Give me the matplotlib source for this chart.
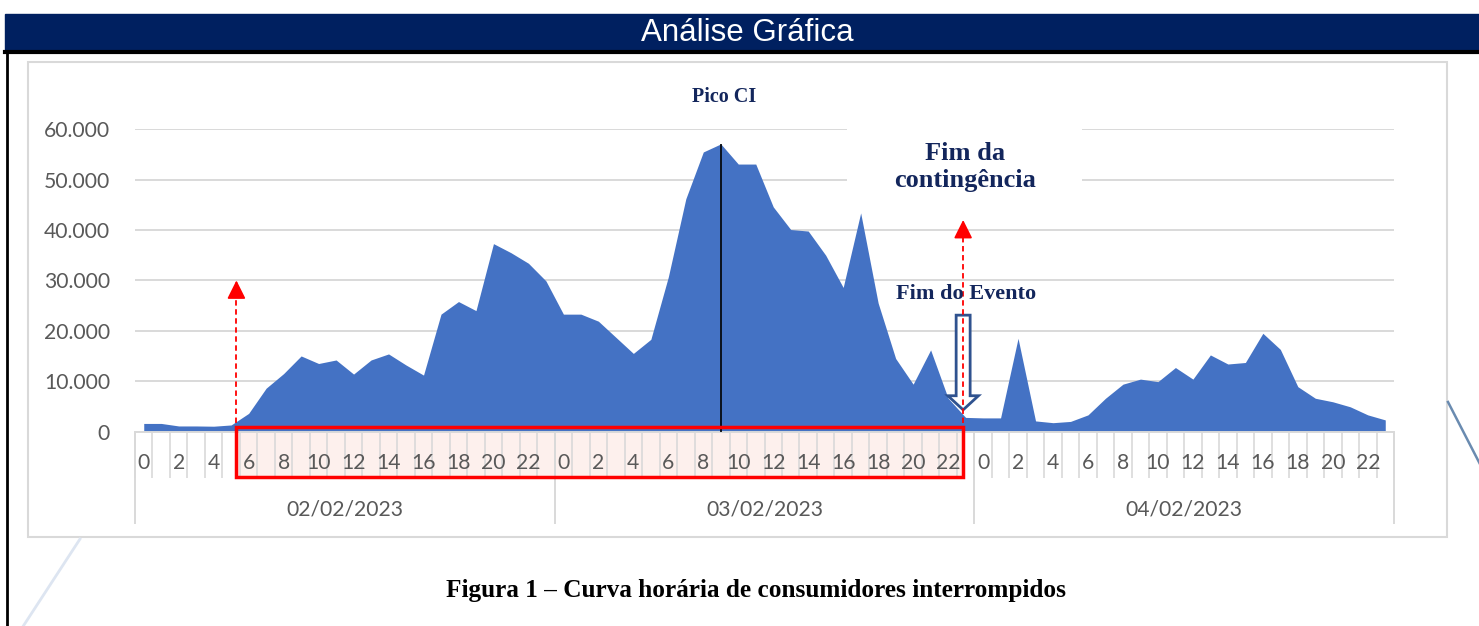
import numpy as np
import matplotlib.pyplot as plt
from matplotlib.patches import Rectangle, FancyArrow
from matplotlib.ticker import FuncFormatter
from matplotlib.lines import Line2D

# -------------------------
# Data: consumidores interrompidos por hora (3 dias)
# -------------------------
dates = ["02/02/2023", "03/02/2023", "04/02/2023"]
hours = list(range(24))

day1 = [1600, 1600, 1100, 1100, 1050, 1300, 3600, 8600, 11500, 15000, 13500, 14200,
        11400, 14200, 15400, 13200, 11200, 23300, 25800, 24000, 37300, 35500, 33400, 29900]
day2 = [23300, 23300, 21900, 18700, 15500, 18300, 30700, 46200, 55500, 57100, 53100, 53100,
        44600, 40100, 39800, 35000, 28600, 43400, 25500, 14500, 9400, 16200, 6600, 2800]
day3 = [2700, 2700, 18500, 2100, 1750, 2000, 3300, 6600, 9400, 10400, 9900, 12700,
        10400, 15200, 13400, 13700, 19500, 16300, 8900, 6600, 5900, 4900, 3300, 2300]

values = day1 + day2 + day3
y_ticks = [0, 10000, 20000, 30000, 40000, 50000, 60000]

peak_idx = 33           # 03/02 09h - Pico CI
start_idx = 5.3         # inicio da contingencia
end_idx = 46.86         # fim da contingencia / fim do evento

# -------------------------
# Figure layout (pixel based)
# -------------------------
W, H = 1479, 626
fig = plt.figure(figsize=(W / 100, H / 100), dpi=100)

def fx(x):
    return x / W

def fy(y):
    return 1 - y / H

NAVY = "#002060"
TXT = "#13265C"
GRID = "#D9D9D9"
LAB = "#595959"

# title bar
fig.patches.append(Rectangle((fx(5), fy(50)), fx(1479) - fx(5), fy(14) - fy(50),
                             transform=fig.transFigure, color=NAVY, zorder=-2))
fig.text(fx(747), fy(33), "Análise Gráfica", color="white", fontsize=22.5,
         family="Liberation Sans", ha="center", va="center")
fig.add_artist(Line2D([fx(5), fx(1479)], [fy(52), fy(52)], color="black", lw=3,
                      transform=fig.transFigure))
fig.add_artist(Line2D([fx(7), fx(7)], [fy(52), fy(626)], color="black", lw=2,
                      transform=fig.transFigure))

# decorative diagonals
fig.add_artist(Line2D([fx(1448), fx(1482)], [fy(402), fy(468)], color="#6A8BB0", lw=1.8,
                      transform=fig.transFigure))
fig.add_artist(Line2D([fx(80), fx(22)], [fy(539), fy(628)], color="#DDE5F1", lw=2,
                      transform=fig.transFigure))

# chart frame
fig.patches.append(Rectangle((fx(28), fy(537)), fx(1447) - fx(28), fy(62) - fy(537),
                             transform=fig.transFigure, facecolor="white",
                             edgecolor=GRID, lw=1.5, zorder=-1))

# -------------------------
# Area chart
# -------------------------
ax = fig.add_axes([fx(135), fy(431.5), fx(1394) - fx(135), fy(129.3) - fy(431.5)])
ax.patch.set_alpha(0)
x = np.arange(len(values))
ax.fill_between(x, values, 0, color="#4472C4", lw=0, zorder=2)
ax.set_xlim(-0.5, len(values) - 0.5)
ax.set_ylim(0, 60000)

ax.set_yticks(y_ticks)
ax.yaxis.set_major_formatter(FuncFormatter(lambda v, p: f"{int(v):,}".replace(",", ".")))
ax.tick_params(axis="y", length=0, pad=18, labelsize=15.2, labelcolor=LAB)
for lbl in ax.get_yticklabels():
    lbl.set_family("Lato")
ax.set_xticks([])
for s in ax.spines.values():
    s.set_visible(False)
ax.set_axisbelow(True)
ax.grid(axis="y", color=GRID, lw=1.4, zorder=0.5)

# white box behind "Fim da contingencia" (hides gridlines)
ax.add_patch(Rectangle((fx(847), fy(192)), fx(1082) - fx(847), fy(118) - fy(192),
                       transform=fig.transFigure, facecolor="white", edgecolor="none",
                       zorder=1, clip_on=False))

# x axis: hour and date bands
xt = ax.get_xaxis_transform()
ax.plot([-0.5, len(values) - 0.5], [0, 0], color=GRID, lw=1.4, transform=xt,
        clip_on=False, zorder=3)
ax.vlines(np.arange(len(values) + 1) - 0.5, -0.154, 0, color=GRID, lw=1.2,
          transform=xt, clip_on=False, zorder=3)
ax.vlines(np.arange(len(dates) + 1) * 24 - 0.5, -0.306, 0, color=GRID, lw=1.4,
          transform=xt, clip_on=False, zorder=3)
for d, date in enumerate(dates):
    for h in hours[::2]:
        ax.text(d * 24 + h, -0.104, str(h), transform=xt, ha="center", va="center",
                fontsize=15.2, color=LAB, family="Lato")
    ax.text(d * 24 + 11.5, -0.258, date, transform=xt, ha="center", va="center",
            fontsize=15.2, color=LAB, family="Lato")

# contingency window box
ax.add_patch(Rectangle((start_idx, -0.151), end_idx - start_idx, 0.165, transform=xt,
                       facecolor="#FDF0ED", edgecolor="none", zorder=1.5, clip_on=False))
ax.add_patch(Rectangle((start_idx, -0.151), end_idx - start_idx, 0.165, transform=xt,
                       facecolor="none", edgecolor="#FF0000", lw=2.5, zorder=5,
                       clip_on=False))

# peak line
ax.vlines(peak_idx, 0, values[peak_idx], color="black", lw=1.2, zorder=4)

# hollow arrow - fim do evento
ax.add_patch(FancyArrow(end_idx, 23100, 0, -(23100 - 4300), width=0.8, head_width=1.75,
                        head_length=2800, length_includes_head=True, facecolor="white",
                        edgecolor="#2F528F", lw=2, zorder=6))

# red dashed arrows
for xi, tip in [(start_idx, 30000), (end_idx, 42000)]:
    ax.plot([xi, xi], [0, tip - 2500], color="red", lw=1.3, ls=(0, (3, 2)), zorder=7)
    ax.annotate("", xy=(xi, tip), xytext=(xi, tip - 2600),
                arrowprops=dict(arrowstyle="-|>,head_length=0.8,head_width=0.4",
                                color="red", lw=1.3, shrinkA=0, shrinkB=0,
                                mutation_scale=14), zorder=7)

# annotations
fig.text(fx(724.5), fy(97), "Pico CI", color=TXT, fontsize=14.5, fontweight="bold",
         family="Liberation Serif", ha="center", va="center")
fig.text(fx(965), fy(167), "Fim da\ncontingência", color=TXT, fontsize=19,
         fontweight="bold", family="Liberation Serif", ha="center", va="center",
         linespacing=1.25)
fig.text(fx(966.5), fy(294), "Fim do Evento", color=TXT, fontsize=16,
         fontweight="bold", family="Liberation Serif", ha="center", va="center")

# caption
fig.text(fx(756), fy(591), "Figura 1 – Curva horária de consumidores interrompidos",
         color="black", fontsize=18.2, fontweight="bold", family="Liberation Serif",
         ha="center", va="center")

fig.savefig("out.png", dpi=100)
